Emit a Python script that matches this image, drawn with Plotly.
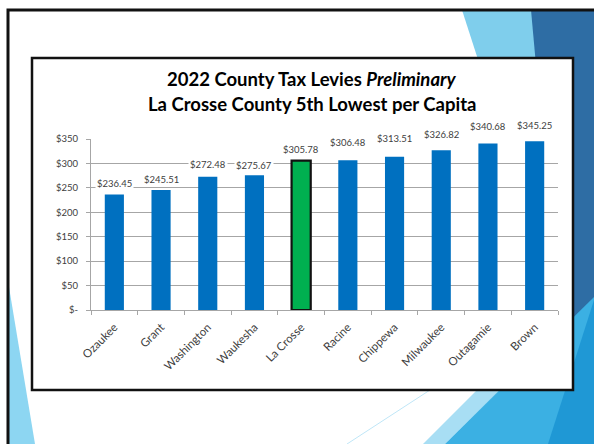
import plotly.graph_objects as go

# ---- data ----
counties = ["Ozaukee", "Grant", "Washington", "Waukesha", "La Crosse",
            "Racine", "Chippewa", "Milwaukee", "Outagamie", "Brown"]
levy_per_capita = [236.45, 245.51, 272.48, 275.67, 305.78,
                   306.48, 313.51, 326.82, 340.68, 345.25]
y_tick_values = [0, 50, 100, 150, 200, 250, 300, 350]
y_tick_labels = ["$-", "$50", "$100", "$150", "$200", "$250", "$300", "$350"]
highlight = "La Crosse"
title_line1 = "<b>2022 County Tax Levies <i>Preliminary</i></b>"
title_line2 = "<b>La Crosse County 5th Lowest per Capita</b>"

# ---- styling ----
W, H = 594, 444
L, R, T, B = 91, 36, 139, 134
FONT = "Lato"
BLUE, GREEN = "#0070C0", "#00B050"
GRID = "#A6A6A6"
TXT = "#404040"


def px(x):
    return (x - L) / (W - L - R)


def py(y):
    return (H - B - y) / (H - T - B)


def path(points):
    s = "M " + " L ".join(f"{px(a):.5f},{py(b):.5f}" for a, b in points) + " Z"
    return s


colors = [GREEN if c == highlight else BLUE for c in counties]
line_w = [2.2 if c == highlight else 0 for c in counties]

fig = go.Figure(go.Bar(
    x=counties, y=levy_per_capita,
    marker=dict(color=colors, line=dict(color="#111111", width=line_w)),
    width=0.41, hoverinfo="skip",
))

# data labels (white boxes hide gridlines like the original)
lift = [11, 11, 12, 10, 11, 18, 18, 16, 17, 16]
for c, v, s in zip(counties, levy_per_capita, lift):
    fig.add_annotation(x=c, y=v, xref="x", yref="y", text=f"${v:.2f}",
                       showarrow=False, yanchor="middle", yshift=s,
                       bgcolor="white", borderpad=1,
                       font=dict(family=FONT, size=9.5, color=TXT))

# titles
fig.add_annotation(x=px(312), y=py(79), xref="paper", yref="paper",
                   text=title_line1, showarrow=False, xanchor="center",
                   yanchor="middle", font=dict(family=FONT, size=18.5, color="black"))
fig.add_annotation(x=px(312), y=py(104), xref="paper", yref="paper",
                   text=title_line2, showarrow=False, xanchor="center",
                   yanchor="middle", font=dict(family=FONT, size=18.5, color="black"))

shapes = []
bg = [
    ([(462, 10), (531, 10), (550, 75), (483, 75)], "#7FCEEC"),
    ([(531, 10), (594, 10), (594, 330), (560, 330)], "#2E6DA4"),
    ([(423, 444), (445, 444), (500, 390), (477, 390)], "#A8DEF4"),
    ([(445, 444), (594, 297), (594, 444)], "#3BB0E3"),
    ([(594, 300), (594, 444), (548, 444)], "#1F98D5"),
    ([(9, 287), (9, 444), (35, 444)], "#8DD6F2"),
]
for pts, col in bg:
    shapes.append(dict(type="path", path=path(pts), xref="paper", yref="paper",
                       fillcolor=col, line=dict(width=0), layer="below"))
shapes.append(dict(type="line", xref="paper", yref="paper",
                   x0=px(430), y0=py(390), x1=px(347), y1=py(444),
                   line=dict(color="#BFE6F7", width=1), layer="below"))
# chart box
shapes.append(dict(type="rect", xref="paper", yref="paper",
                   x0=px(32), y0=py(58), x1=px(573), y1=py(390),
                   fillcolor="white", line=dict(color="#111111", width=2.5),
                   layer="below"))
# slide frame
shapes.append(dict(type="path", xref="paper", yref="paper",
                   path=f"M {px(596):.5f},{py(10):.5f} L {px(8):.5f},{py(10):.5f} L {px(8):.5f},{py(446):.5f}",
                   line=dict(color="#111111", width=3), layer="below"))

fig.update_layout(
    width=W, height=H,
    margin=dict(l=L, r=R, t=T, b=B, pad=0),
    paper_bgcolor="white", plot_bgcolor="rgba(0,0,0,0)",
    showlegend=False, shapes=shapes,
    font=dict(family=FONT, color=TXT),
)
fig.update_xaxes(type="category", showgrid=False, showline=True, linecolor=GRID,
                 linewidth=1, ticks="outside", tickson="boundaries", ticklen=4,
                 tickcolor=GRID, tickangle=-45, ticklabelstandoff=5,
                 tickfont=dict(family=FONT, size=11.5, color=TXT))
fig.update_yaxes(range=[0, 350], tickvals=y_tick_values, ticktext=y_tick_labels,
                 showgrid=True, gridcolor=GRID, gridwidth=1, showline=True,
                 linecolor=GRID, ticks="outside", ticklen=4, tickcolor=GRID,
                 zeroline=False, ticklabelstandoff=6,
                 tickfont=dict(family=FONT, size=9.5, color=TXT))

fig.write_html("out.html", config={"displayModeBar": False},
               post_script="document.body.style.margin='0';document.body.style.overflow='hidden';")
